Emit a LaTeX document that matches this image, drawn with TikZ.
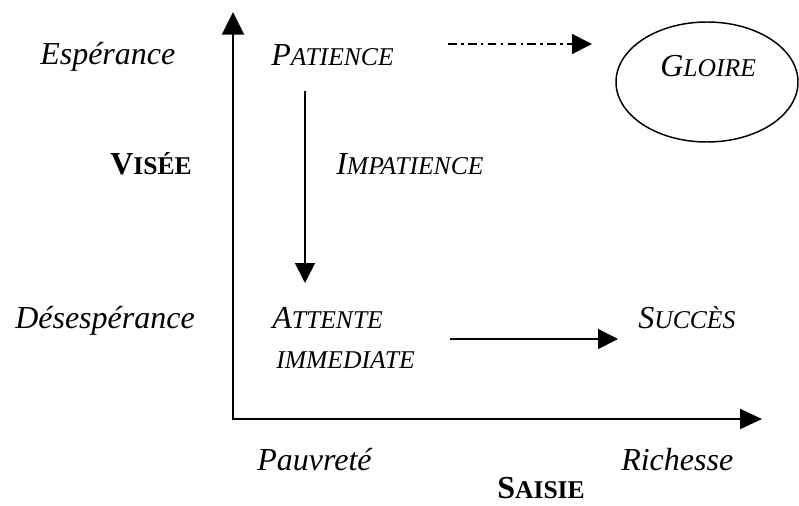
\documentclass[tikz,border=0pt]{standalone}
\usepackage{fontspec}
\setmainfont{Liberation Serif}
\usetikzlibrary{arrows.meta}
\newcommand{\mysc}[2]{{\fontsize{24pt}{28pt}\selectfont #1}{\fontsize{19.2pt}{23pt}\selectfont #2}}
\newcommand{\myscs}[1]{{\fontsize{19.2pt}{23pt}\selectfont #1}}
\begin{document}
\begin{tikzpicture}[x=0.75pt,y=-0.75pt,
  lbl/.style={inner sep=0pt, anchor=base west, font=\fontsize{24pt}{28pt}\selectfont\itshape},
  bld/.style={inner sep=0pt, anchor=base west, font=\fontsize{24pt}{28pt}\selectfont\bfseries},
  axis/.style={line width=1.5pt, line join=miter, {Triangle[length=17pt,width=16.5pt]}-{Triangle[length=16.5pt,width=15pt]}},
  conn/.style={line width=1.3pt, -{Triangle[length=15pt,width=15pt]}},
  dashdot/.style={conn, dash pattern=on 6.5pt off 3.2pt on 2pt off 3.2pt},
  ell/.style={line width=1.1pt}]
\useasboundingbox (0,0) rectangle (799,506);
% axes
\coordinate (O) at (233,419);
\coordinate (ytop) at (233,12);
\coordinate (xend) at (762,419);
\draw[axis] (ytop) -- (O) -- (xend);
% labels on axes
\node[lbl] (esp) at (40,65) {Espérance};
\node[bld] (vis) at (110,175) {\mysc{V}{ISÉE}};
\node[lbl] (des) at (15,328) {Désespérance};
\node[lbl] (pau) at (257,470) {Pauvreté};
\node[lbl] (ric) at (621,470) {Richesse};
\node[bld] (sai) at (497,498) {\mysc{S}{AISIE}};
% states
\node[lbl] (pat) at (271,66) {\mysc{P}{ATIENCE}};
\node[lbl] (imp) at (336,175) {\mysc{I}{MPATIENCE}};
\node[lbl] (glo) at (660,77) {\mysc{G}{LOIRE}};
\node[lbl] (att) at (272,328) {\mysc{A}{TTENTE}};
\node[lbl] (imm) at (276,368) {\myscs{IMMEDIATE}};
\node[lbl] (suc) at (638,328) {\mysc{S}{UCCÈS}};
\draw[ell] (707,82) ellipse [x radius=68.25pt, y radius=45pt];
% connectors
\coordinate (p1) at (448,44);
\coordinate (p2) at (592,44);
\draw[dashdot] (p1) -- (p2);
\coordinate (d1) at (305,91);
\coordinate (d2) at (305,283);
\draw[conn] (d1) -- (d2);
\coordinate (a1) at (450,339);
\coordinate (a2) at (618,339);
\draw[conn] (a1) -- (a2);
\end{tikzpicture}
\end{document}
